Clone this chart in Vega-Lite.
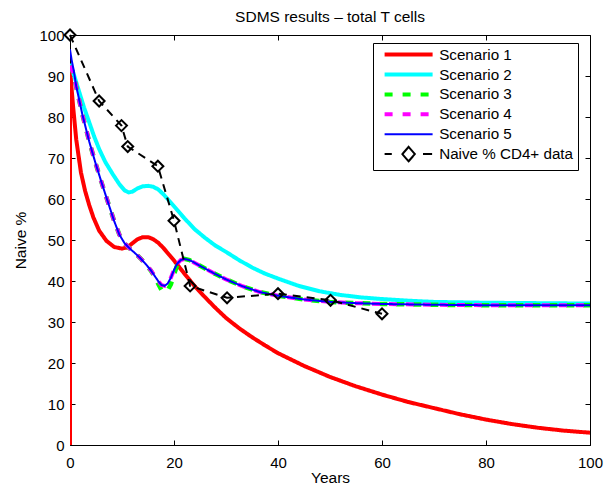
{
  "$schema": "https://vega.github.io/schema/vega-lite/v6.json",
  "width": 520,
  "height": 410,
  "autosize": {"type": "none"},
  "padding": {"left": 70, "top": 35, "right": 15, "bottom": 47},
  "background": "white",
  "config": {
    "view": {"stroke": null},
    "font": "Liberation Sans",
    "axis": {
      "grid": false,
      "domainColor": "black",
      "domainWidth": 1,
      "tickColor": "black",
      "tickWidth": 1,
      "tickSize": -5,
      "labelColor": "black",
      "labelFont": "Liberation Sans",
      "labelFontSize": 15,
      "labelFlush": false,
      "labelOverlap": false,
      "titleColor": "black",
      "titleFont": "Liberation Sans",
      "titleFontSize": 15.5,
      "titleFontWeight": "normal"
    }
  },
  "title": {
    "text": "SDMS results – total T cells",
    "fontSize": 15.5,
    "fontWeight": "normal",
    "color": "black",
    "font": "Liberation Sans",
    "offset": 0,
    "anchor": "middle"
  },
  "datasets": {
    "sc": [
      {"series": "Scenario 1", "x": 0, "y": 0},
      {"series": "Scenario 1", "x": 0, "y": 92},
      {"series": "Scenario 1", "x": 0.3, "y": 87},
      {"series": "Scenario 1", "x": 0.6, "y": 82.5},
      {"series": "Scenario 1", "x": 1.2, "y": 74.5},
      {"series": "Scenario 1", "x": 2.1, "y": 66.5},
      {"series": "Scenario 1", "x": 2.9, "y": 62},
      {"series": "Scenario 1", "x": 3.7, "y": 58.5},
      {"series": "Scenario 1", "x": 4.5, "y": 55.5},
      {"series": "Scenario 1", "x": 5.6, "y": 52.3},
      {"series": "Scenario 1", "x": 7, "y": 49.8},
      {"series": "Scenario 1", "x": 8.5, "y": 48.3},
      {"series": "Scenario 1", "x": 10, "y": 47.9},
      {"series": "Scenario 1", "x": 11, "y": 48.2},
      {"series": "Scenario 1", "x": 12, "y": 49.2},
      {"series": "Scenario 1", "x": 13, "y": 50.2},
      {"series": "Scenario 1", "x": 14, "y": 50.7},
      {"series": "Scenario 1", "x": 15, "y": 50.7},
      {"series": "Scenario 1", "x": 16, "y": 50.2},
      {"series": "Scenario 1", "x": 17, "y": 49.3},
      {"series": "Scenario 1", "x": 18, "y": 48},
      {"series": "Scenario 1", "x": 19.2, "y": 46.2},
      {"series": "Scenario 1", "x": 20, "y": 45},
      {"series": "Scenario 1", "x": 22, "y": 41.8},
      {"series": "Scenario 1", "x": 24, "y": 38.7},
      {"series": "Scenario 1", "x": 26, "y": 36},
      {"series": "Scenario 1", "x": 28, "y": 33.4},
      {"series": "Scenario 1", "x": 30, "y": 31},
      {"series": "Scenario 1", "x": 32.5, "y": 28.5},
      {"series": "Scenario 1", "x": 35, "y": 26.3},
      {"series": "Scenario 1", "x": 37.5, "y": 24.3},
      {"series": "Scenario 1", "x": 40, "y": 22.4},
      {"series": "Scenario 1", "x": 45, "y": 19.3},
      {"series": "Scenario 1", "x": 50, "y": 16.6},
      {"series": "Scenario 1", "x": 55, "y": 14.3},
      {"series": "Scenario 1", "x": 60, "y": 12.3},
      {"series": "Scenario 1", "x": 65, "y": 10.5},
      {"series": "Scenario 1", "x": 70, "y": 9},
      {"series": "Scenario 1", "x": 75, "y": 7.5},
      {"series": "Scenario 1", "x": 80, "y": 6.2},
      {"series": "Scenario 1", "x": 85, "y": 5.1},
      {"series": "Scenario 1", "x": 90, "y": 4.2},
      {"series": "Scenario 1", "x": 95, "y": 3.5},
      {"series": "Scenario 1", "x": 100, "y": 3.0},

      {"series": "Scenario 2", "x": 0, "y": 93},
      {"series": "Scenario 2", "x": 0.5, "y": 91.2},
      {"series": "Scenario 2", "x": 1, "y": 89.3},
      {"series": "Scenario 2", "x": 1.8, "y": 86},
      {"series": "Scenario 2", "x": 2.7, "y": 82.3},
      {"series": "Scenario 2", "x": 3.7, "y": 78.7},
      {"series": "Scenario 2", "x": 4.6, "y": 75.4},
      {"series": "Scenario 2", "x": 5.6, "y": 72.2},
      {"series": "Scenario 2", "x": 6.8, "y": 69},
      {"series": "Scenario 2", "x": 8.2, "y": 66.1},
      {"series": "Scenario 2", "x": 9.5, "y": 63.6},
      {"series": "Scenario 2", "x": 10.5, "y": 62.1},
      {"series": "Scenario 2", "x": 11.3, "y": 61.6},
      {"series": "Scenario 2", "x": 12, "y": 61.8},
      {"series": "Scenario 2", "x": 13, "y": 62.6},
      {"series": "Scenario 2", "x": 14, "y": 63.1},
      {"series": "Scenario 2", "x": 15, "y": 63.2},
      {"series": "Scenario 2", "x": 16, "y": 63},
      {"series": "Scenario 2", "x": 17, "y": 62.3},
      {"series": "Scenario 2", "x": 18, "y": 61.1},
      {"series": "Scenario 2", "x": 19.2, "y": 59.4},
      {"series": "Scenario 2", "x": 20.5, "y": 57.5},
      {"series": "Scenario 2", "x": 22, "y": 55.3},
      {"series": "Scenario 2", "x": 24, "y": 52.6},
      {"series": "Scenario 2", "x": 26, "y": 50.5},
      {"series": "Scenario 2", "x": 28, "y": 48.6},
      {"series": "Scenario 2", "x": 30, "y": 47.1},
      {"series": "Scenario 2", "x": 32.5, "y": 45.1},
      {"series": "Scenario 2", "x": 35, "y": 43.3},
      {"series": "Scenario 2", "x": 37.5, "y": 41.8},
      {"series": "Scenario 2", "x": 40, "y": 40.6},
      {"series": "Scenario 2", "x": 44, "y": 38.8},
      {"series": "Scenario 2", "x": 48, "y": 37.5},
      {"series": "Scenario 2", "x": 52, "y": 36.6},
      {"series": "Scenario 2", "x": 56, "y": 36},
      {"series": "Scenario 2", "x": 60, "y": 35.6},
      {"series": "Scenario 2", "x": 65, "y": 35.2},
      {"series": "Scenario 2", "x": 70, "y": 34.9},
      {"series": "Scenario 2", "x": 80, "y": 34.7},
      {"series": "Scenario 2", "x": 90, "y": 34.6},
      {"series": "Scenario 2", "x": 100, "y": 34.5},

      {"series": "Scenario 3", "x": 0, "y": 92.5},
      {"series": "Scenario 3", "x": 0.7, "y": 90.5},
      {"series": "Scenario 3", "x": 1.2, "y": 87.3},
      {"series": "Scenario 3", "x": 2.4, "y": 80.5},
      {"series": "Scenario 3", "x": 3.7, "y": 74},
      {"series": "Scenario 3", "x": 4.8, "y": 69.2},
      {"series": "Scenario 3", "x": 6, "y": 64.3},
      {"series": "Scenario 3", "x": 7.2, "y": 59.6},
      {"series": "Scenario 3", "x": 8.5, "y": 54.6},
      {"series": "Scenario 3", "x": 9.5, "y": 51.3},
      {"series": "Scenario 3", "x": 10.5, "y": 49.2},
      {"series": "Scenario 3", "x": 11.5, "y": 47.9},
      {"series": "Scenario 3", "x": 12.5, "y": 46.8},
      {"series": "Scenario 3", "x": 13.5, "y": 45.6},
      {"series": "Scenario 3", "x": 14.5, "y": 44.2},
      {"series": "Scenario 3", "x": 15.5, "y": 42.6},
      {"series": "Scenario 3", "x": 16.3, "y": 41},
      {"series": "Scenario 3", "x": 17, "y": 39.2},
      {"series": "Scenario 3", "x": 17.6, "y": 37.8},
      {"series": "Scenario 3", "x": 18.2, "y": 37.4},
      {"series": "Scenario 3", "x": 18.8, "y": 37.8},
      {"series": "Scenario 3", "x": 19.4, "y": 39.2},
      {"series": "Scenario 3", "x": 20, "y": 41.6},
      {"series": "Scenario 3", "x": 20.6, "y": 43.8},
      {"series": "Scenario 3", "x": 21.3, "y": 45},
      {"series": "Scenario 3", "x": 22, "y": 45.4},
      {"series": "Scenario 3", "x": 23, "y": 45.1},
      {"series": "Scenario 3", "x": 25, "y": 43.7},
      {"series": "Scenario 3", "x": 27.5, "y": 42},
      {"series": "Scenario 3", "x": 30, "y": 40.4},
      {"series": "Scenario 3", "x": 33, "y": 38.8},
      {"series": "Scenario 3", "x": 36.5, "y": 37.3},
      {"series": "Scenario 3", "x": 40, "y": 36.4},
      {"series": "Scenario 3", "x": 45, "y": 35.5},
      {"series": "Scenario 3", "x": 50, "y": 34.9},
      {"series": "Scenario 3", "x": 55, "y": 34.6},
      {"series": "Scenario 3", "x": 60, "y": 34.4},
      {"series": "Scenario 3", "x": 70, "y": 34.2},
      {"series": "Scenario 3", "x": 80, "y": 34.1},
      {"series": "Scenario 3", "x": 100, "y": 34.1},

      {"series": "Scenario 4", "x": 0, "y": 92.5},
      {"series": "Scenario 4", "x": 0.7, "y": 90.5},
      {"series": "Scenario 4", "x": 1.2, "y": 87.3},
      {"series": "Scenario 4", "x": 2.4, "y": 80.5},
      {"series": "Scenario 4", "x": 3.7, "y": 74},
      {"series": "Scenario 4", "x": 4.8, "y": 69.2},
      {"series": "Scenario 4", "x": 6, "y": 64.3},
      {"series": "Scenario 4", "x": 7.2, "y": 59.6},
      {"series": "Scenario 4", "x": 8.5, "y": 54.6},
      {"series": "Scenario 4", "x": 9.5, "y": 51.3},
      {"series": "Scenario 4", "x": 10.5, "y": 49.2},
      {"series": "Scenario 4", "x": 11.5, "y": 47.9},
      {"series": "Scenario 4", "x": 12.5, "y": 46.8},
      {"series": "Scenario 4", "x": 13.5, "y": 45.6},
      {"series": "Scenario 4", "x": 14.5, "y": 44.2},
      {"series": "Scenario 4", "x": 15.5, "y": 42.7},
      {"series": "Scenario 4", "x": 16.3, "y": 41.2},
      {"series": "Scenario 4", "x": 17, "y": 39.9},
      {"series": "Scenario 4", "x": 17.6, "y": 39},
      {"series": "Scenario 4", "x": 18.2, "y": 38.8},
      {"series": "Scenario 4", "x": 18.8, "y": 39.4},
      {"series": "Scenario 4", "x": 19.4, "y": 40.8},
      {"series": "Scenario 4", "x": 20, "y": 42.7},
      {"series": "Scenario 4", "x": 20.6, "y": 44.2},
      {"series": "Scenario 4", "x": 21.3, "y": 45.1},
      {"series": "Scenario 4", "x": 22, "y": 45.4},
      {"series": "Scenario 4", "x": 23, "y": 45.1},
      {"series": "Scenario 4", "x": 25, "y": 43.7},
      {"series": "Scenario 4", "x": 27.5, "y": 42},
      {"series": "Scenario 4", "x": 30, "y": 40.4},
      {"series": "Scenario 4", "x": 33, "y": 38.8},
      {"series": "Scenario 4", "x": 36.5, "y": 37.3},
      {"series": "Scenario 4", "x": 40, "y": 36.4},
      {"series": "Scenario 4", "x": 45, "y": 35.5},
      {"series": "Scenario 4", "x": 50, "y": 34.9},
      {"series": "Scenario 4", "x": 55, "y": 34.6},
      {"series": "Scenario 4", "x": 60, "y": 34.4},
      {"series": "Scenario 4", "x": 70, "y": 34.2},
      {"series": "Scenario 4", "x": 80, "y": 34.1},
      {"series": "Scenario 4", "x": 100, "y": 34.1},

      {"series": "Scenario 5", "x": 0, "y": 96.5},
      {"series": "Scenario 5", "x": 0.3, "y": 94},
      {"series": "Scenario 5", "x": 0.7, "y": 91.5},
      {"series": "Scenario 5", "x": 1.2, "y": 87.5},
      {"series": "Scenario 5", "x": 2.4, "y": 80.5},
      {"series": "Scenario 5", "x": 3.7, "y": 74},
      {"series": "Scenario 5", "x": 4.8, "y": 69.2},
      {"series": "Scenario 5", "x": 6, "y": 64.3},
      {"series": "Scenario 5", "x": 7.2, "y": 59.6},
      {"series": "Scenario 5", "x": 8.5, "y": 54.6},
      {"series": "Scenario 5", "x": 9.5, "y": 51.3},
      {"series": "Scenario 5", "x": 10.5, "y": 49.2},
      {"series": "Scenario 5", "x": 11.5, "y": 47.9},
      {"series": "Scenario 5", "x": 12.5, "y": 46.8},
      {"series": "Scenario 5", "x": 13.5, "y": 45.6},
      {"series": "Scenario 5", "x": 14.5, "y": 44.2},
      {"series": "Scenario 5", "x": 15.5, "y": 42.7},
      {"series": "Scenario 5", "x": 16.3, "y": 41.2},
      {"series": "Scenario 5", "x": 17, "y": 39.9},
      {"series": "Scenario 5", "x": 17.6, "y": 39},
      {"series": "Scenario 5", "x": 18.2, "y": 38.8},
      {"series": "Scenario 5", "x": 18.8, "y": 39.4},
      {"series": "Scenario 5", "x": 19.4, "y": 40.8},
      {"series": "Scenario 5", "x": 20, "y": 42.7},
      {"series": "Scenario 5", "x": 20.6, "y": 44.2},
      {"series": "Scenario 5", "x": 21.3, "y": 45.1},
      {"series": "Scenario 5", "x": 22, "y": 45.4},
      {"series": "Scenario 5", "x": 23, "y": 45.1},
      {"series": "Scenario 5", "x": 25, "y": 43.7},
      {"series": "Scenario 5", "x": 27.5, "y": 42},
      {"series": "Scenario 5", "x": 30, "y": 40.4},
      {"series": "Scenario 5", "x": 33, "y": 38.8},
      {"series": "Scenario 5", "x": 36.5, "y": 37.3},
      {"series": "Scenario 5", "x": 40, "y": 36.4},
      {"series": "Scenario 5", "x": 45, "y": 35.5},
      {"series": "Scenario 5", "x": 50, "y": 34.9},
      {"series": "Scenario 5", "x": 55, "y": 34.6},
      {"series": "Scenario 5", "x": 60, "y": 34.4},
      {"series": "Scenario 5", "x": 70, "y": 34.2},
      {"series": "Scenario 5", "x": 80, "y": 34.1},
      {"series": "Scenario 5", "x": 100, "y": 34.1}
    ],
    "obs": [
      {"series": "Naive % CD4+ data", "x": 0, "y": 100},
      {"series": "Naive % CD4+ data", "x": 5.6, "y": 83.9},
      {"series": "Naive % CD4+ data", "x": 9.9, "y": 77.9},
      {"series": "Naive % CD4+ data", "x": 11.1, "y": 72.8},
      {"series": "Naive % CD4+ data", "x": 16.9, "y": 68},
      {"series": "Naive % CD4+ data", "x": 20, "y": 54.7},
      {"series": "Naive % CD4+ data", "x": 23.1, "y": 38.8},
      {"series": "Naive % CD4+ data", "x": 30.2, "y": 35.9},
      {"series": "Naive % CD4+ data", "x": 40, "y": 36.9},
      {"series": "Naive % CD4+ data", "x": 50.1, "y": 35.3},
      {"series": "Naive % CD4+ data", "x": 60, "y": 32}
    ]
  },
  "layer": [
    {
      "data": {"name": "sc"},
      "mark": {"type": "line", "strokeCap": "butt", "clip": true},
      "encoding": {
        "x": {
          "field": "x", "type": "quantitative",
          "scale": {"domain": [0, 100], "nice": false, "zero": false},
          "axis": {"orient": "bottom", "values": [0, 20, 40, 60, 80, 100], "labelPadding": 15, "title": "Years", "titlePadding": 0}
        },
        "y": {
          "field": "y", "type": "quantitative",
          "scale": {"domain": [0, 100], "nice": false, "zero": false},
          "axis": {"orient": "left", "values": [0, 10, 20, 30, 40, 50, 60, 70, 80, 90, 100], "labelPadding": 11, "title": "Naive %", "titlePadding": 10}
        },
        "color": {
          "field": "series", "type": "nominal",
          "scale": {
            "domain": ["Scenario 1", "Scenario 2", "Scenario 3", "Scenario 4", "Scenario 5", "Naive % CD4+ data"],
            "range": ["#ff0000", "#00ffff", "#00ff00", "#ff00ff", "#0000ff", "#000000"]
          },
          "legend": {
            "orient": "none",
            "legendX": 303,
            "legendY": 8,
            "title": null,
            "fillColor": "white",
            "strokeColor": "black",
            "padding": 4,
            "cornerRadius": 0,
            "symbolSize": 100,
            "symbolOffset": 24,
            "labelOffset": 23,
            "rowPadding": -3.1,
            "gridAlign": "all",
            "labelFont": "Liberation Sans",
            "labelFontSize": 15.2,
            "labelColor": "black",
            "labelLimit": 300,
            "symbolStrokeWidth": 4,
            "encode": {
              "symbols": {
                "update": {
                  "size": {"value": 2304},
                  "fill": {"value": "transparent"},
                  "shape": {"signal": "datum.value === 'Naive % CD4+ data' ? 'M-1,0L-0.7,0M0.6,0L0.98,0M0,-0.3L0.26,0L0,0.3L-0.26,0Z' : 'stroke'"},
                  "strokeDash": {"signal": "(datum.value === 'Scenario 3' || datum.value === 'Scenario 4') ? [8, 10] : [1, 0]"},
                  "strokeWidth": {"signal": "(datum.value === 'Scenario 5' || datum.value === 'Naive % CD4+ data') ? 2 : 4"},
                  "opacity": {"value": 1}
                }
              }
            }
          }
        },
        "strokeWidth": {
          "condition": [
            {"test": "datum.series === 'Scenario 5'", "value": 2},
            {"test": "datum.series === 'Scenario 3'", "value": 4.5}
          ],
          "value": 4
        },
        "strokeDash": {
          "condition": {"test": "datum.series === 'Scenario 3' || datum.series === 'Scenario 4'", "value": [8, 9]},
          "value": [1, 0]
        }
      }
    },
    {
      "data": {"name": "obs"},
      "mark": {"type": "line", "strokeDash": [8, 6], "strokeWidth": 2, "strokeCap": "butt"},
      "encoding": {
        "x": {
          "field": "x", "type": "quantitative",
          "scale": {"domain": [0, 100], "nice": false, "zero": false},
          "axis": {"orient": "top", "values": [0, 20, 40, 60, 80, 100], "labels": false, "title": null}
        },
        "y": {
          "field": "y", "type": "quantitative",
          "scale": {"domain": [0, 100], "nice": false, "zero": false},
          "axis": {"orient": "right", "values": [0, 10, 20, 30, 40, 50, 60, 70, 80, 90, 100], "labels": false, "title": null}
        },
        "color": {"field": "series", "type": "nominal"}
      }
    },
    {
      "data": {"name": "obs"},
      "mark": {"type": "point", "shape": "diamond", "filled": false, "size": 120, "strokeWidth": 2, "opacity": 1},
      "encoding": {
        "x": {"field": "x", "type": "quantitative", "axis": null},
        "y": {"field": "y", "type": "quantitative", "axis": null},
        "color": {"field": "series", "type": "nominal"}
      }
    }
  ],
  "resolve": {"axis": {"x": "independent", "y": "independent"}}
}
